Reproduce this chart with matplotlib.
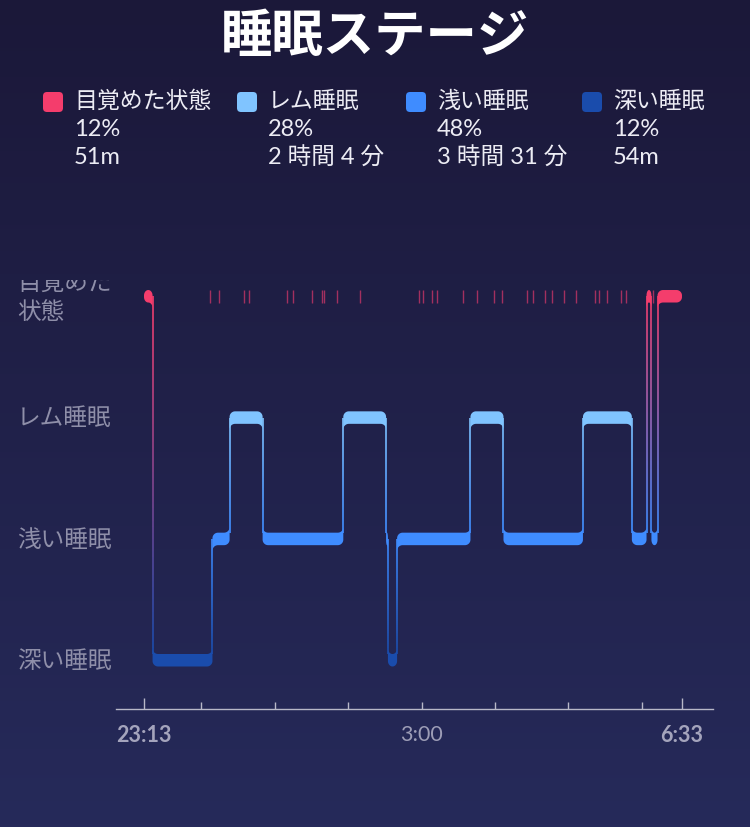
import numpy as np
import matplotlib.pyplot as plt
import matplotlib.colors as mcolors
from matplotlib.patches import Polygon, FancyBboxPatch
from matplotlib.collections import LineCollection
from matplotlib.transforms import Bbox, TransformedBbox, blended_transform_factory

plt.rcParams['font.family'] = ['Lato', 'Noto Sans CJK JP']

title = '睡眠ステージ'

# stages from bottom to top
stage_keys = ['deep', 'light', 'rem', 'wake']
stage_labels = ['深い睡眠', '浅い睡眠', 'レム睡眠', '目覚めた\n状態']
stage_colors = ['#1a4cac', '#3f8cff', '#80c4ff', '#f43d6c']

legend_names = ['目覚めた状態', 'レム睡眠', '浅い睡眠', '深い睡眠']
legend_pcts = ['12%', '28%', '48%', '12%']
legend_durs = ['51m', '2 時間 4 分', '3 時間 31 分', '54m']
legend_colors = ['#f43d6c', '#80c4ff', '#3f8cff', '#1a4cac']

# minutes after 23:13
seg_start = [0, 7, 56, 70, 97, 163, 198, 199.5, 207, 267, 294, 359, 399, 411, 415, 420]
seg_stage = ['wake', 'deep', 'light', 'rem', 'light', 'rem', 'light', 'deep', 'light',
             'rem', 'light', 'rem', 'light', 'wake', 'light', 'wake']
sleep_end = 440

# short awakenings shown as ticks
wake_ticks = [54, 61.5, 82, 85.5, 117, 122, 137.5, 145.5, 147, 158, 177, 225, 228.5,
              235.5, 239.5, 260.5, 272.5, 286.5, 293, 313, 318.5, 328, 334, 343.5, 353,
              369, 372, 378.5, 390.5, 394.5, 416.5]

hour_ticks = [47, 107, 167, 227, 287, 347, 407]
hour_labels = ['', '', '', '3:00', '', '', '']
edge_ticks = [0, sleep_end]
edge_labels = ['23:13', '6:33']

W, H = 750, 828
fig = plt.figure(figsize=(7.5, 8.28), dpi=100)

# background + header drawn in pixel coordinates
bg = fig.add_axes([0, 0, 1, 1], zorder=0)
cmap = mcolors.LinearSegmentedColormap.from_list('bg', ['#1b1839', '#262a5a'])
bg.imshow(np.linspace(0, 1, 256)[:, None], cmap=cmap, extent=[0, W, H, 0], aspect='auto')
bg.set_xlim(0, W)
bg.set_ylim(H, 0)
bg.axis('off')

bg.text(375, 36, title, ha='center', va='center', fontsize=37, fontweight='bold',
        color='white', family=['Noto Sans CJK JP'])

leg_x = [43, 237, 406, 582]
for i in range(4):
    bg.add_patch(FancyBboxPatch((leg_x[i], 93), 20, 20, boxstyle='round,pad=0,rounding_size=4',
                                fc=legend_colors[i], ec='none'))
    tx = leg_x[i] + 31
    bg.text(tx, 101, legend_names[i], va='center', fontsize=16.5, color='#ececf4')
    bg.text(tx, 130, legend_pcts[i], va='center', fontsize=17, color='#ececf4')
    bg.text(tx, 158, legend_durs[i], va='center', fontsize=17, color='#ececf4')

# chart axes
px_x = 1.2227   # pixels per minute
px_y = 121.33   # pixels per stage level
x0_px, x1_px, y_top_px, y_bot_px = 116, 713, 280, 710
ax = fig.add_axes([x0_px / W, 1 - y_bot_px / H, (x1_px - x0_px) / W, (y_bot_px - y_top_px) / H],
                  zorder=1)
ax.set_facecolor('none')
ax.set_xlim((x0_px - 144) / px_x, (x1_px - 144) / px_x)
ax.set_ylim((655 - y_bot_px) / px_y, (655 - y_top_px) / px_y)

th = 12.5 / px_y
r_px = 5.5


def band(xa, xb, top, left, right):
    bot = top - th
    rx = min(r_px / px_x, (xb - xa) / 2)
    ry = r_px / px_y
    pts = []

    def arc(cx, cy, a0, a1):
        t = np.radians(np.linspace(a0, a1, 12))
        return list(zip(cx + rx * np.cos(t), cy + ry * np.sin(t)))

    pts += arc(xa + rx, top + ry, 180, 270) if left == 'up' else arc(xa + rx, top - ry, 180, 90)
    pts += arc(xb - rx, top + ry, 270, 360) if right == 'up' else arc(xb - rx, top - ry, 90, 0)
    pts += arc(xb - rx, bot - ry, 0, 90) if right == 'down' else arc(xb - rx, bot + ry, 0, -90)
    pts += arc(xa + rx, bot - ry, 90, 180) if left == 'down' else arc(xa + rx, bot + ry, 270, 180)
    return pts


levels = [stage_keys.index(s) for s in seg_stage]
bounds = seg_start + [sleep_end]

# transitions
for i in range(1, len(levels)):
    a, b = levels[i - 1], levels[i]
    lo, hi = min(a, b), max(a, b)
    ys = np.linspace(lo, hi - th / 2, 60)
    c_lo = np.array(mcolors.to_rgb(stage_colors[lo]))
    c_hi = np.array(mcolors.to_rgb(stage_colors[hi]))
    f = np.linspace(0, 1, 59)[:, None]
    cols = c_lo * (1 - f) + c_hi * f
    x = bounds[i]
    segs = [[(x, ys[k]), (x, ys[k + 1])] for k in range(59)]
    ax.add_collection(LineCollection(segs, colors=cols, linewidths=1.2, zorder=2))

# bands
for i, lv in enumerate(levels):
    left = None if i == 0 else ('up' if levels[i - 1] > lv else 'down')
    right = None if i == len(levels) - 1 else ('up' if levels[i + 1] > lv else 'down')
    ax.add_patch(Polygon(band(bounds[i], bounds[i + 1], lv, left, right),
                         closed=True, fc=stage_colors[lv], ec='none', zorder=3))

ax.vlines(wake_ticks, 3 - th, 3, colors='#a3305f', lw=1, zorder=2)

# stage labels, clipped at top like the scrolled view
clip = TransformedBbox(Bbox([[0, 0], [1, 1 - 281 / H]]), fig.transFigure)
trans = blended_transform_factory(fig.transFigure, ax.transData)
for lv, lab in enumerate(stage_labels):
    yc = lv - th / 2
    t = fig.text(17 / W, yc, lab, transform=trans, va='center', ha='left', fontsize=17,
                 color='#8f8fa9', linespacing=1.4, zorder=5)
    t.set_clip_box(clip)
    t.set_clip_on(True)

for side in ['top', 'left', 'right']:
    ax.spines[side].set_visible(False)
ax.spines['bottom'].set_color('#b8b8c8')
ax.spines['bottom'].set_linewidth(1)
ax.set_yticks([])
ax.set_xticks(hour_ticks, hour_labels)
ax.set_xticks(edge_ticks, edge_labels, minor=True)
ax.tick_params(axis='x', which='major', direction='in', length=5, width=1, color='#b8b8c8',
               labelcolor='#9d9db6', labelsize=15.5, pad=10.5)
ax.tick_params(axis='x', which='minor', direction='in', length=8, width=1, color='#b8b8c8',
               labelcolor='#a4a4bc', labelsize=15.5, pad=10.5)
for lab in ax.get_xticklabels(minor=True):
    lab.set_fontweight('bold')

fig.savefig('out.png', dpi=100)
